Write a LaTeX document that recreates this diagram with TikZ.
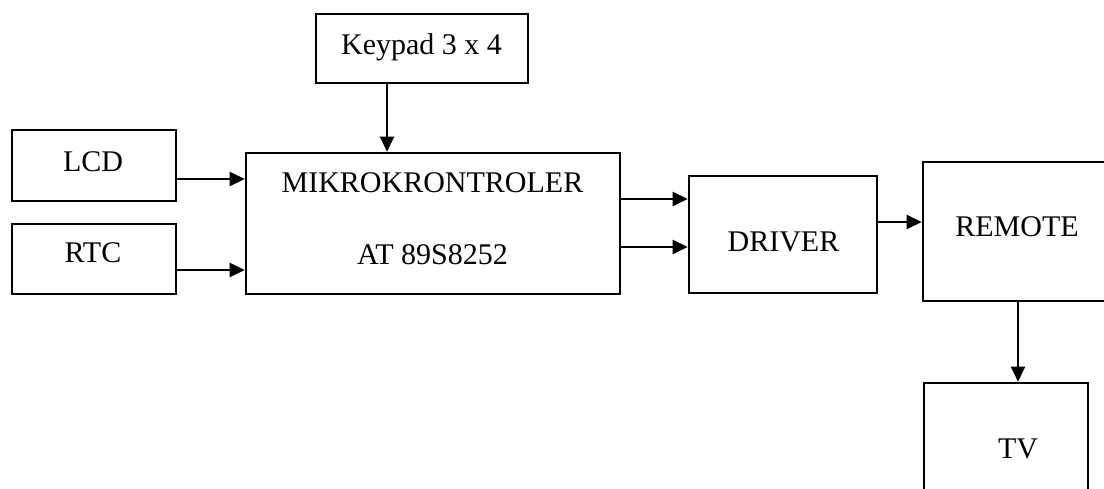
\documentclass[tikz,border=0pt]{standalone}
\usepackage{fontspec}
\setmainfont{Liberation Serif}
\usetikzlibrary{arrows.meta}
\begin{document}
\begin{tikzpicture}[x=1pt,y=-1pt,
  blok/.style={draw, line width=2.6pt, inner sep=0pt},
  lbl/.style={inner sep=0pt, text height=20pt, text depth=0pt,
    font=\fontsize{30}{36}\selectfont},
  arr/.style={line width=2.4pt, -{Triangle[length=15pt,width=14pt]}}]
\useasboundingbox (0,0) rectangle (1104,489);
\clip (0,0) rectangle (1104,489);
% blocks
\node[blok, minimum width=212pt, minimum height=69pt]  (keypad) at (422,48.5) {};
\node[blok, minimum width=164pt, minimum height=71pt]  (lcd)    at (94,165.5) {};
\node[blok, minimum width=164pt, minimum height=70pt]  (rtc)    at (94,259) {};
\node[blok, minimum width=374pt, minimum height=141pt] (mcu)    at (433,223.5) {};
\node[blok, minimum width=188pt, minimum height=117pt] (driver) at (783,234.5) {};
\node[blok, minimum width=187pt, minimum height=139pt] (remote) at (1016.5,231.5) {};
\node[blok, minimum width=164pt, minimum height=130pt] (tv)     at (1006,448) {};
% labels
\node[lbl] (tkeypad) at (421.5,45) {Keypad 3 x 4};
\node[lbl] (tlcd)    at (93,162) {LCD};
\node[lbl] (trtc)    at (93,253) {RTC};
\node[lbl] (tmcu1)   at (432.5,183) {MIKROKRONTROLER};
\node[lbl] (tmcu2)   at (432.5,255) {AT 89S8252};
\node[lbl] (tdriver) at (783.5,242) {DRIVER};
\node[lbl] (tremote) at (1017,227) {REMOTE};
\node[lbl] (ttv)     at (1018,448) {TV};
% connections
\draw[arr] ([xshift=-35pt]keypad.south) -- ([xshift=-35pt]keypad.south |- mcu.north);
\draw[arr] ([yshift=-13.5pt]lcd.east) -- ([yshift=-13.5pt]lcd.east -| mcu.west);
\draw[arr] ([yshift=-11pt]rtc.east) -- ([yshift=-11pt]rtc.east -| mcu.west);
\draw[arr] ([yshift=24.5pt]mcu.east) -- ([yshift=24.5pt]mcu.east -| driver.west);
\draw[arr] ([yshift=-23.5pt]mcu.east) -- ([yshift=-23.5pt]mcu.east -| driver.west);
\draw[arr] ([yshift=12.5pt]driver.east) -- ([yshift=12.5pt]driver.east -| remote.west);
\draw[arr] ([xshift=1.5pt]remote.south) -- ([xshift=1.5pt]remote.south |- tv.north);
\end{tikzpicture}
\end{document}
